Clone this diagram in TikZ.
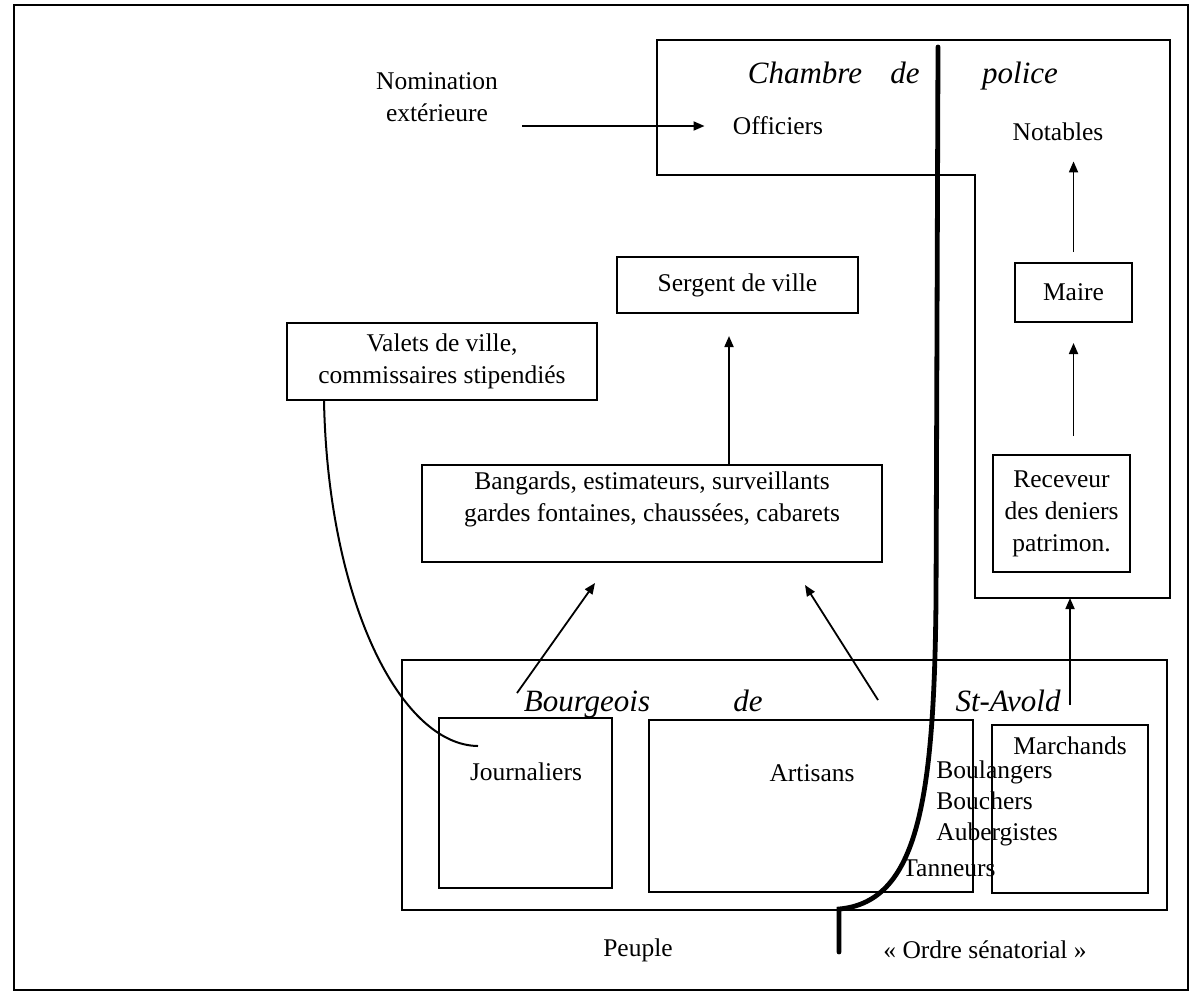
\documentclass[tikz,border=0pt]{standalone}
\usepackage{fontspec}
\setmainfont{Liberation Serif}
\usetikzlibrary{arrows.meta}
\begin{document}
\begin{tikzpicture}[x=0.5pt,y=-0.5pt,
  box/.style={draw,line width=1pt,inner sep=0pt},
  txt/.style={font=\fontsize{12.75}{16}\selectfont,inner sep=0pt,align=center},
  itxt/.style={font=\fontsize{15.5}{18}\selectfont\itshape,inner sep=0pt,anchor=base},
  arr/.style={line width=0.9pt,-{Triangle[length=5.5pt,width=4.5pt]}},
  ln/.style={line width=1pt},
  thickline/.style={line width=2.4pt,line cap=round}]
\useasboundingbox (0,0) rectangle (1202,1002);
% outer frame
\draw[ln] (14,5) rectangle (1188,990);
% Chambre de police outline
\draw[ln] (657,40) -- (1170,40) -- (1170,598) -- (975,598) -- (975,175) -- (657,175) -- cycle;
\node[itxt] (chambre) at (805,83) {Chambre};
\node[itxt] (cde) at (905,83) {de};
\node[itxt] (police) at (1020,83) {police};
\node[txt] (off) at (778,126) {Officiers};
\node[txt] (not) at (1058,132) {Notables};
\node[txt] (nom) at (437,97.5) {Nomination\\extérieure};
\coordinate (nomr) at (522,126);
\draw[arr,shorten >=14pt] (nomr) -- (off.west);
% right column
\node[box,txt,minimum width=58.5pt,minimum height=29.5pt] (maire) at (1073.5,292.5) {Maire};
\node[box,txt,minimum width=68.5pt,minimum height=58.5pt] (rec) at (1061.5,513.5) {Receveur\\des deniers\\patrimon.};
\draw[arr,shorten <=5pt,shorten >=10pt] (maire.north) -- (maire.north |- not.south);
\draw[arr,shorten <=9pt,shorten >=10pt] (maire.south |- rec.north) -- (maire.south);
% middle boxes
\node[box,txt,minimum width=120.5pt,minimum height=28pt] (sergent) at (737.5,285) {Sergent de ville};
\node[box,txt,minimum width=155pt,minimum height=38.5pt] (valets) at (442,361.5) {Valets de ville,\\commissaires stipendiés};
\node[box,minimum width=230pt,minimum height=48.5pt] (bang) at (652,513.5) {};
\node[txt] (bangt) at (652,499) {Bangards, estimateurs, surveillants\\gardes fontaines, chaussées, cabarets};
\coordinate (sgb) at ([xshift=-4.25pt]sergent.south);
\draw[arr,shorten >=11pt] (sgb |- bang.north) -- (sgb);
% Bourgeois
\node[box,minimum width=382.5pt,minimum height=125pt] (bourg) at (784.5,785) {};
\node[itxt] (bbourg) at (587,711) {Bourgeois};
\node[itxt] (bde) at (748,711) {de};
\node[itxt] (bsa) at (1008,711) {St-Avold};
\node[box,minimum width=86.5pt,minimum height=85pt] (journ) at (525.5,803) {};
\node[box,minimum width=162pt,minimum height=86pt] (artis) at (811,806) {};
\node[box,minimum width=78pt,minimum height=84pt] (march) at (1070,809) {};
\node[txt] (journt) at (526,772) {Journaliers};
\node[txt] (artist) at (812,773) {Artisans};
\node[txt] (marcht) at (1070,746) {Marchands};
\node[txt,font=\fontsize{12.75}{15.5}\selectfont,align=left,anchor=west] (list) at (936,803) {Boulangers\\Bouchers\\Aubergistes};
\node[txt,anchor=west] (tann) at (902,868) {Tanneurs};
% arrows from bourgeois
\coordinate (la1) at (517,693);
\coordinate (la2) at (595,583);
\coordinate (ra1) at (878,700);
\coordinate (ra2) at (805,585);
\draw[arr] (la1) -- (la2);
\draw[arr] (ra1) -- (ra2);
\coordinate (sa) at (1070,705);
\coordinate (chb) at (1070,598);
\draw[arr] (sa) -- (chb);
% valets curve
\coordinate (vs) at ([xshift=19pt]valets.south west);
\coordinate (vend) at (478,746);
\draw[ln] (vs) .. controls (328,600) and (400,745) .. (vend);
% thick separation line
\coordinate (tltop) at (938,47);
\coordinate (tlbot) at (839,952);
\draw[thickline] (tltop) -- (936,600) .. controls (934,800) and (918,902) .. (839,909) -- (tlbot);
% bottom labels
\node[txt] (peuple) at (638,950) {Peuple};
\node[txt] (ordre) at (985,950) {«~Ordre sénatorial~»};
\end{tikzpicture}
\end{document}
